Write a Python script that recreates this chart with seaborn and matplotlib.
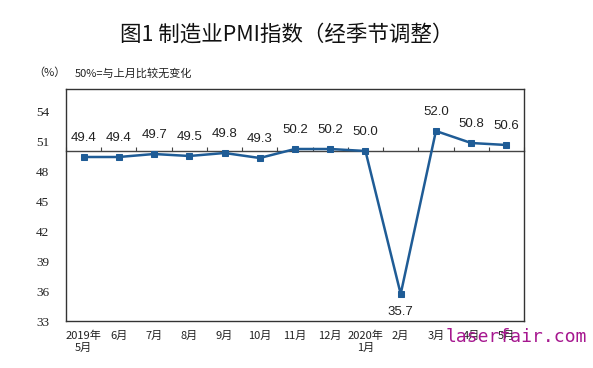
import matplotlib
matplotlib.use("Agg")
import matplotlib.pyplot as plt
import seaborn as sns
import pandas as pd
import numpy as np

months = ["2019年\n5月", "6月", "7月", "8月", "9月", "10月", "11月", "12月",
          "2020年\n1月", "2月", "3月", "4月", "5月"]
pmi = [49.4, 49.4, 49.7, 49.5, 49.8, 49.3, 50.2, 50.2, 50.0, 35.7, 52.0, 50.8, 50.6]
yticks = [33, 36, 39, 42, 45, 48, 51, 54]
baseline = 50

sns.set_theme(style="white")
plt.rcParams['font.family'] = ['Noto Sans CJK SC', 'DejaVu Sans']

df = pd.DataFrame({"idx": np.arange(len(months)), "pmi": pmi})

fig = plt.figure(figsize=(5.93, 3.68), dpi=100)
ax = fig.add_axes([66/593, 1 - 321/368, (524 - 66)/593, (321 - 89)/368])

line_color = "#1f5c96"
sns.lineplot(data=df, x="idx", y="pmi", ax=ax, color=line_color, lw=1.8,
             marker="s", markersize=4.5, markeredgecolor=line_color,
             markerfacecolor=line_color, zorder=3)

ax.set_xlim(-0.5, len(months) - 0.5)
ymin, ymax = 33, 56.2
ax.set_ylim(ymin, ymax)
ax.set_yticks(yticks)
ax.set_yticklabels([str(v) for v in yticks], fontsize=9.5, color="#222222",
                   family=['Liberation Serif', 'DejaVu Serif'])
ax.set_xticks(df["idx"])
ax.set_xticklabels(months, fontsize=8, color="#222222", linespacing=1.25)
ax.tick_params(axis="x", length=0, pad=7)
ax.tick_params(axis="y", direction="in", length=3, width=0.8, color="#444444", pad=12)
ax.set_xlabel("")
ax.set_ylabel("")
for s in ax.spines.values():
    s.set_color("#333333")
    s.set_linewidth(1.0)
    s.set_visible(True)

# 50% reference axis with boundary ticks
sec = ax.secondary_xaxis((baseline - ymin) / (ymax - ymin))
sec.set_xticks(np.arange(len(months) + 1) - 0.5)
sec.set_xticklabels([])
sec.tick_params(axis="x", direction="out", length=3, width=0.8, color="#444444")
sec.spines["top"].set_color("#444444")
sec.spines["top"].set_linewidth(1.0)
for k in ["bottom", "left", "right"]:
    sec.spines[k].set_visible(False)

# data labels
for i, v in enumerate(pmi):
    off = -13 if v < 40 else 14
    ax.annotate(f"{v:.1f}", (i, v), xytext=(0, off), textcoords="offset points",
                ha="center", va="center", fontsize=9.5, color="#222222",
                family=['Liberation Sans', 'DejaVu Sans'])

fig.text(287/593, 1 - 35/368, "图1 制造业PMI指数（经季节调整）", ha="center", va="center",
         fontsize=15.5, fontweight="medium", color="#111111")
fig.text(33/593, 1 - 73/368, "（%）", ha="left", va="center", fontsize=8, color="#222222")
fig.text(75/593, 1 - 73/368, "50%=与上月比较无变化", ha="left", va="center",
         fontsize=8, color="#222222")

fig.text(446/593, 1 - 337/368, "laserfair.com", ha="left", va="center",
         fontsize=13, color="#a6178f", family=['DejaVu Sans Mono'])

fig.savefig("out.png", dpi=100, facecolor="white")
